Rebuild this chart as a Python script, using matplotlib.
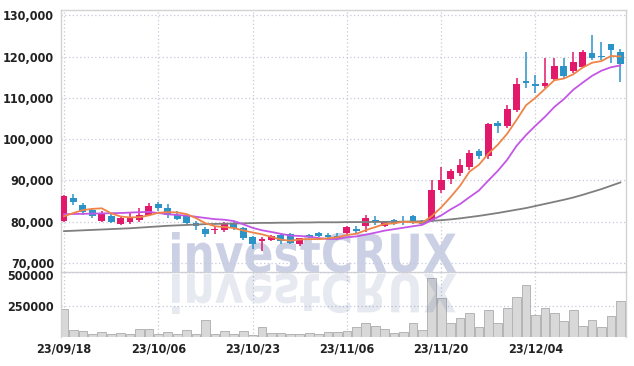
import numpy as np
import matplotlib.pyplot as plt
from matplotlib.textpath import TextPath
from matplotlib.patches import PathPatch
from matplotlib.font_manager import FontProperties, fontManager
from matplotlib.transforms import Affine2D, ScaledTranslation
from matplotlib.ticker import FuncFormatter

# daily candles (KRW)
opens = [80200, 85700, 84100, 82900, 80200, 81400, 79400, 79800, 80300, 81500,
         84300, 83300, 81700, 81400, 79700, 78200, 78000, 78100, 79700, 78500,
         76300, 75300, 75500, 76800, 77000, 74700, 76800, 77200, 76800, 76600,
         77200, 78200, 78900, 80500, 78900, 80400, 80200, 81300, 80200, 80100,
         87600, 90400, 91800, 93200, 97200, 95800, 103800, 103300, 107100, 114100,
         113400, 112800, 114600, 117800, 116500, 117600, 120800, 120200, 123100, 121100]
highs = [86500, 86700, 84600, 83100, 82500, 81800, 81200, 82300, 83300, 84500,
         84700, 84400, 82700, 81900, 80100, 78600, 79000, 79900, 79900, 78700,
         76500, 76300, 76800, 76900, 77300, 76100, 77100, 77500, 77200, 77300,
         78900, 78900, 81700, 81300, 80200, 80700, 81300, 81700, 80500, 90200,
         93200, 92800, 95300, 97400, 97700, 104000, 104500, 108300, 114800, 121200,
         115600, 119600, 119600, 119600, 121200, 121600, 125300, 123600, 123100, 121800]
lows = [80000, 84000, 81700, 81000, 79900, 79600, 79100, 79400, 80000, 81300,
        82700, 80900, 80300, 79300, 77900, 76300, 77100, 77600, 78000, 75500,
        73300, 73000, 75300, 74700, 74600, 74200, 76000, 76200, 75900, 75600,
        77000, 77000, 77600, 79300, 78600, 79200, 79300, 79500, 79300, 79800,
        87000, 89200, 91000, 92600, 95200, 95200, 101500, 102700, 106500, 112400,
        111300, 112400, 114000, 114800, 116000, 117200, 119100, 119100, 118400, 113800]
closes = [86100, 84700, 82300, 81300, 81800, 80000, 80900, 81100, 81700, 83900,
          83200, 81700, 80700, 79700, 79000, 77000, 78100, 79700, 78500, 76100,
          74500, 75800, 76600, 75200, 74800, 76000, 76300, 76500, 76200, 76100,
          78800, 77700, 80900, 79900, 79900, 79500, 79800, 80100, 79500, 87700,
          90200, 92300, 93800, 96600, 96000, 103700, 103100, 107200, 113400, 113700,
          112800, 113700, 117800, 115400, 118800, 121000, 119600, 119800, 121600, 118200]
volumes = [225000, 67000, 59000, 40000, 52000, 40000, 47000, 40000, 77000, 77000,
           40000, 52000, 40000, 67000, 40000, 141000, 42000, 59000, 42000, 59000,
           35000, 92000, 47000, 47000, 40000, 40000, 47000, 40000, 52000, 52000,
           59000, 92000, 121000, 96000, 77000, 47000, 52000, 121000, 67000, 455000,
           307000, 121000, 159000, 196000, 92000, 215000, 121000, 233000, 314000, 400000,
           183000, 233000, 196000, 139000, 215000, 102000, 141000, 92000, 176000, 282000]

# moving averages as drawn
ma5 = [81300, 82100, 82800, 83100, 83240, 82020, 81260, 81020, 81100, 81520,
       82160, 82320, 82240, 81840, 80860, 79620, 78900, 78700, 78460, 77880,
       77380, 76920, 76300, 75640, 75380, 75680, 75780, 75760, 75960, 76220,
       76780, 77060, 77940, 78680, 79440, 79580, 80000, 79840, 79760, 81320,
       83460, 85960, 88700, 92120, 93780, 96480, 98640, 101320, 104680, 108220,
       110040, 112160, 114280, 114680, 115700, 117340, 118520, 118920, 120160, 120040]
ma10 = [81800, 81850, 81900, 81950, 82000, 82050, 82100, 82200, 82300, 82380,
        82090, 81790, 81630, 81470, 81190, 80890, 80610, 80470, 80150, 79370,
        78500, 77910, 77500, 77050, 76630, 76530, 76350, 76030, 75800, 75800,
        76230, 76420, 76850, 77320, 77830, 78180, 78530, 78890, 79220, 80380,
        81520, 82980, 84270, 85940, 87550, 89970, 92300, 95010, 98400, 101000,
        103260, 105400, 107800, 109680, 111960, 113690, 115340, 116600, 117420, 117870]
ma60 = [77700, 77800, 77900, 78000, 78100, 78200, 78300, 78400, 78550, 78700,
        78850, 79000, 79100, 79200, 79300, 79400, 79450, 79500, 79550, 79600,
        79650, 79700, 79700, 79750, 79750, 79800, 79800, 79850, 79850, 79850,
        79900, 79900, 79900, 79950, 79950, 79950, 80000, 80050, 80100, 80200,
        80350, 80550, 80800, 81100, 81400, 81750, 82100, 82500, 82900, 83300,
        83800, 84300, 84800, 85300, 85850, 86500, 87200, 87900, 88700, 89500]

tick_pos = [0, 10, 20, 30, 40, 50]
tick_labels = ['23/09/18', '23/10/06', '23/10/23', '23/11/06', '23/11/20', '23/12/04']

up_color = '#e2196a'
down_color = '#2c93c9'
grid_color = '#c6c9dc'
spine_color = '#d2d2d2'

# narrow font if there is one, else Roboto
names = {(f.name, f.stretch) for f in fontManager.ttflist}
if any(n == 'Liberation Sans Narrow' for n, s in names):
    tick_fp = FontProperties(family='Liberation Sans Narrow', weight='bold', size=11)
elif any(n == 'DejaVu Sans' and 'condensed' in str(s) for n, s in names):
    tick_fp = FontProperties(family='DejaVu Sans', stretch='condensed', weight='bold', size=9)
else:
    tick_fp = FontProperties(family='Roboto', weight='bold', size=9.5)

fig = plt.figure(figsize=(6.34, 3.66), dpi=100)
ax = fig.add_axes([61 / 634, 1 - 272 / 366, 565 / 634, 262 / 366])
axv = fig.add_axes([61 / 634, 1 - 337 / 366, 565 / 634, 65 / 366], sharex=ax)
ax.set_facecolor('none')
axv.set_facecolor('none')

# watermark + reflection
fp = FontProperties(family='DejaVu Sans', weight='bold')
tp = TextPath((0, 0), 'investCRUX', size=1, prop=fp)
bb = tp.get_extents()
sx = 284 / bb.width
sy = 40 / bb.y1
base = Affine2D().translate(-bb.x0, 0)
wm = base + Affine2D().scale(sx / 634, sy / 366).translate(172 / 634, 94 / 366) + fig.transFigure
fig.add_artist(PathPatch(tp, transform=wm, facecolor='#cbd0e4', edgecolor='none', zorder=-1))
wm2 = base + Affine2D().scale(sx / 634, -sy / 366).translate(172 / 634, 92 / 366) + fig.transFigure
fig.add_artist(PathPatch(tp, transform=wm2, facecolor='#46579a', alpha=0.13, edgecolor='none', zorder=5))

x = np.arange(len(closes))
o = np.array(opens)
c = np.array(closes)
cols = [up_color if cc >= oo else down_color for oo, cc in zip(o, c)]
ax.vlines(x, lows, highs, colors=cols, linewidth=1.1, zorder=3)
body = np.maximum(np.abs(c - o), 250)
ax.bar(x, body, bottom=np.minimum(o, c), width=0.72, color=cols, zorder=3)

ax.plot(x, ma60, color='#7f7f7f', linewidth=1.3, zorder=4)
ax.plot(x, ma10, color='#c456e6', linewidth=1.3, zorder=4)
ax.plot(x, ma5, color='#ee8547', linewidth=1.3, zorder=4)

axv.bar(x, volumes, width=0.92, color='#d8d8d8', edgecolor='#b4b4b4', linewidth=0.7, zorder=2)

ax.set_xlim(-0.32, 59.6)
ax.set_ylim(67800, 131300)
axv.set_ylim(18000, 500000)

ax.set_yticks(range(70000, 130001, 10000))
ax.yaxis.set_major_formatter(FuncFormatter(lambda v, p: f'{int(v):,}'))
axv.set_yticks([250000, 500000])
axv.set_yticklabels(['250000', '500000'])
axv.set_xticks(tick_pos)
axv.set_xticklabels(tick_labels)
ax.tick_params(labelbottom=False)

for a in (ax, axv):
    a.grid(True, color=grid_color, linestyle=(0, (1, 2)), linewidth=0.9)
    a.set_axisbelow(True)
    a.tick_params(length=0, pad=5, colors='#222222')
    for lab in a.get_xticklabels() + a.get_yticklabels():
        lab.set_fontproperties(tick_fp)
    for s in a.spines.values():
        s.set_color(spine_color)
        s.set_linewidth(1)
axv.spines['bottom'].set_visible(False)
axv.spines['top'].set_visible(False)
axv.tick_params(axis='x', pad=4)

# top volume label sits a little below the panel edge
top_lab = axv.get_yticklabels()[1]
top_lab.set_transform(top_lab.get_transform() + ScaledTranslation(0, -3 / 100, fig.dpi_scale_trans))

fig.savefig('out.png', dpi=100)
